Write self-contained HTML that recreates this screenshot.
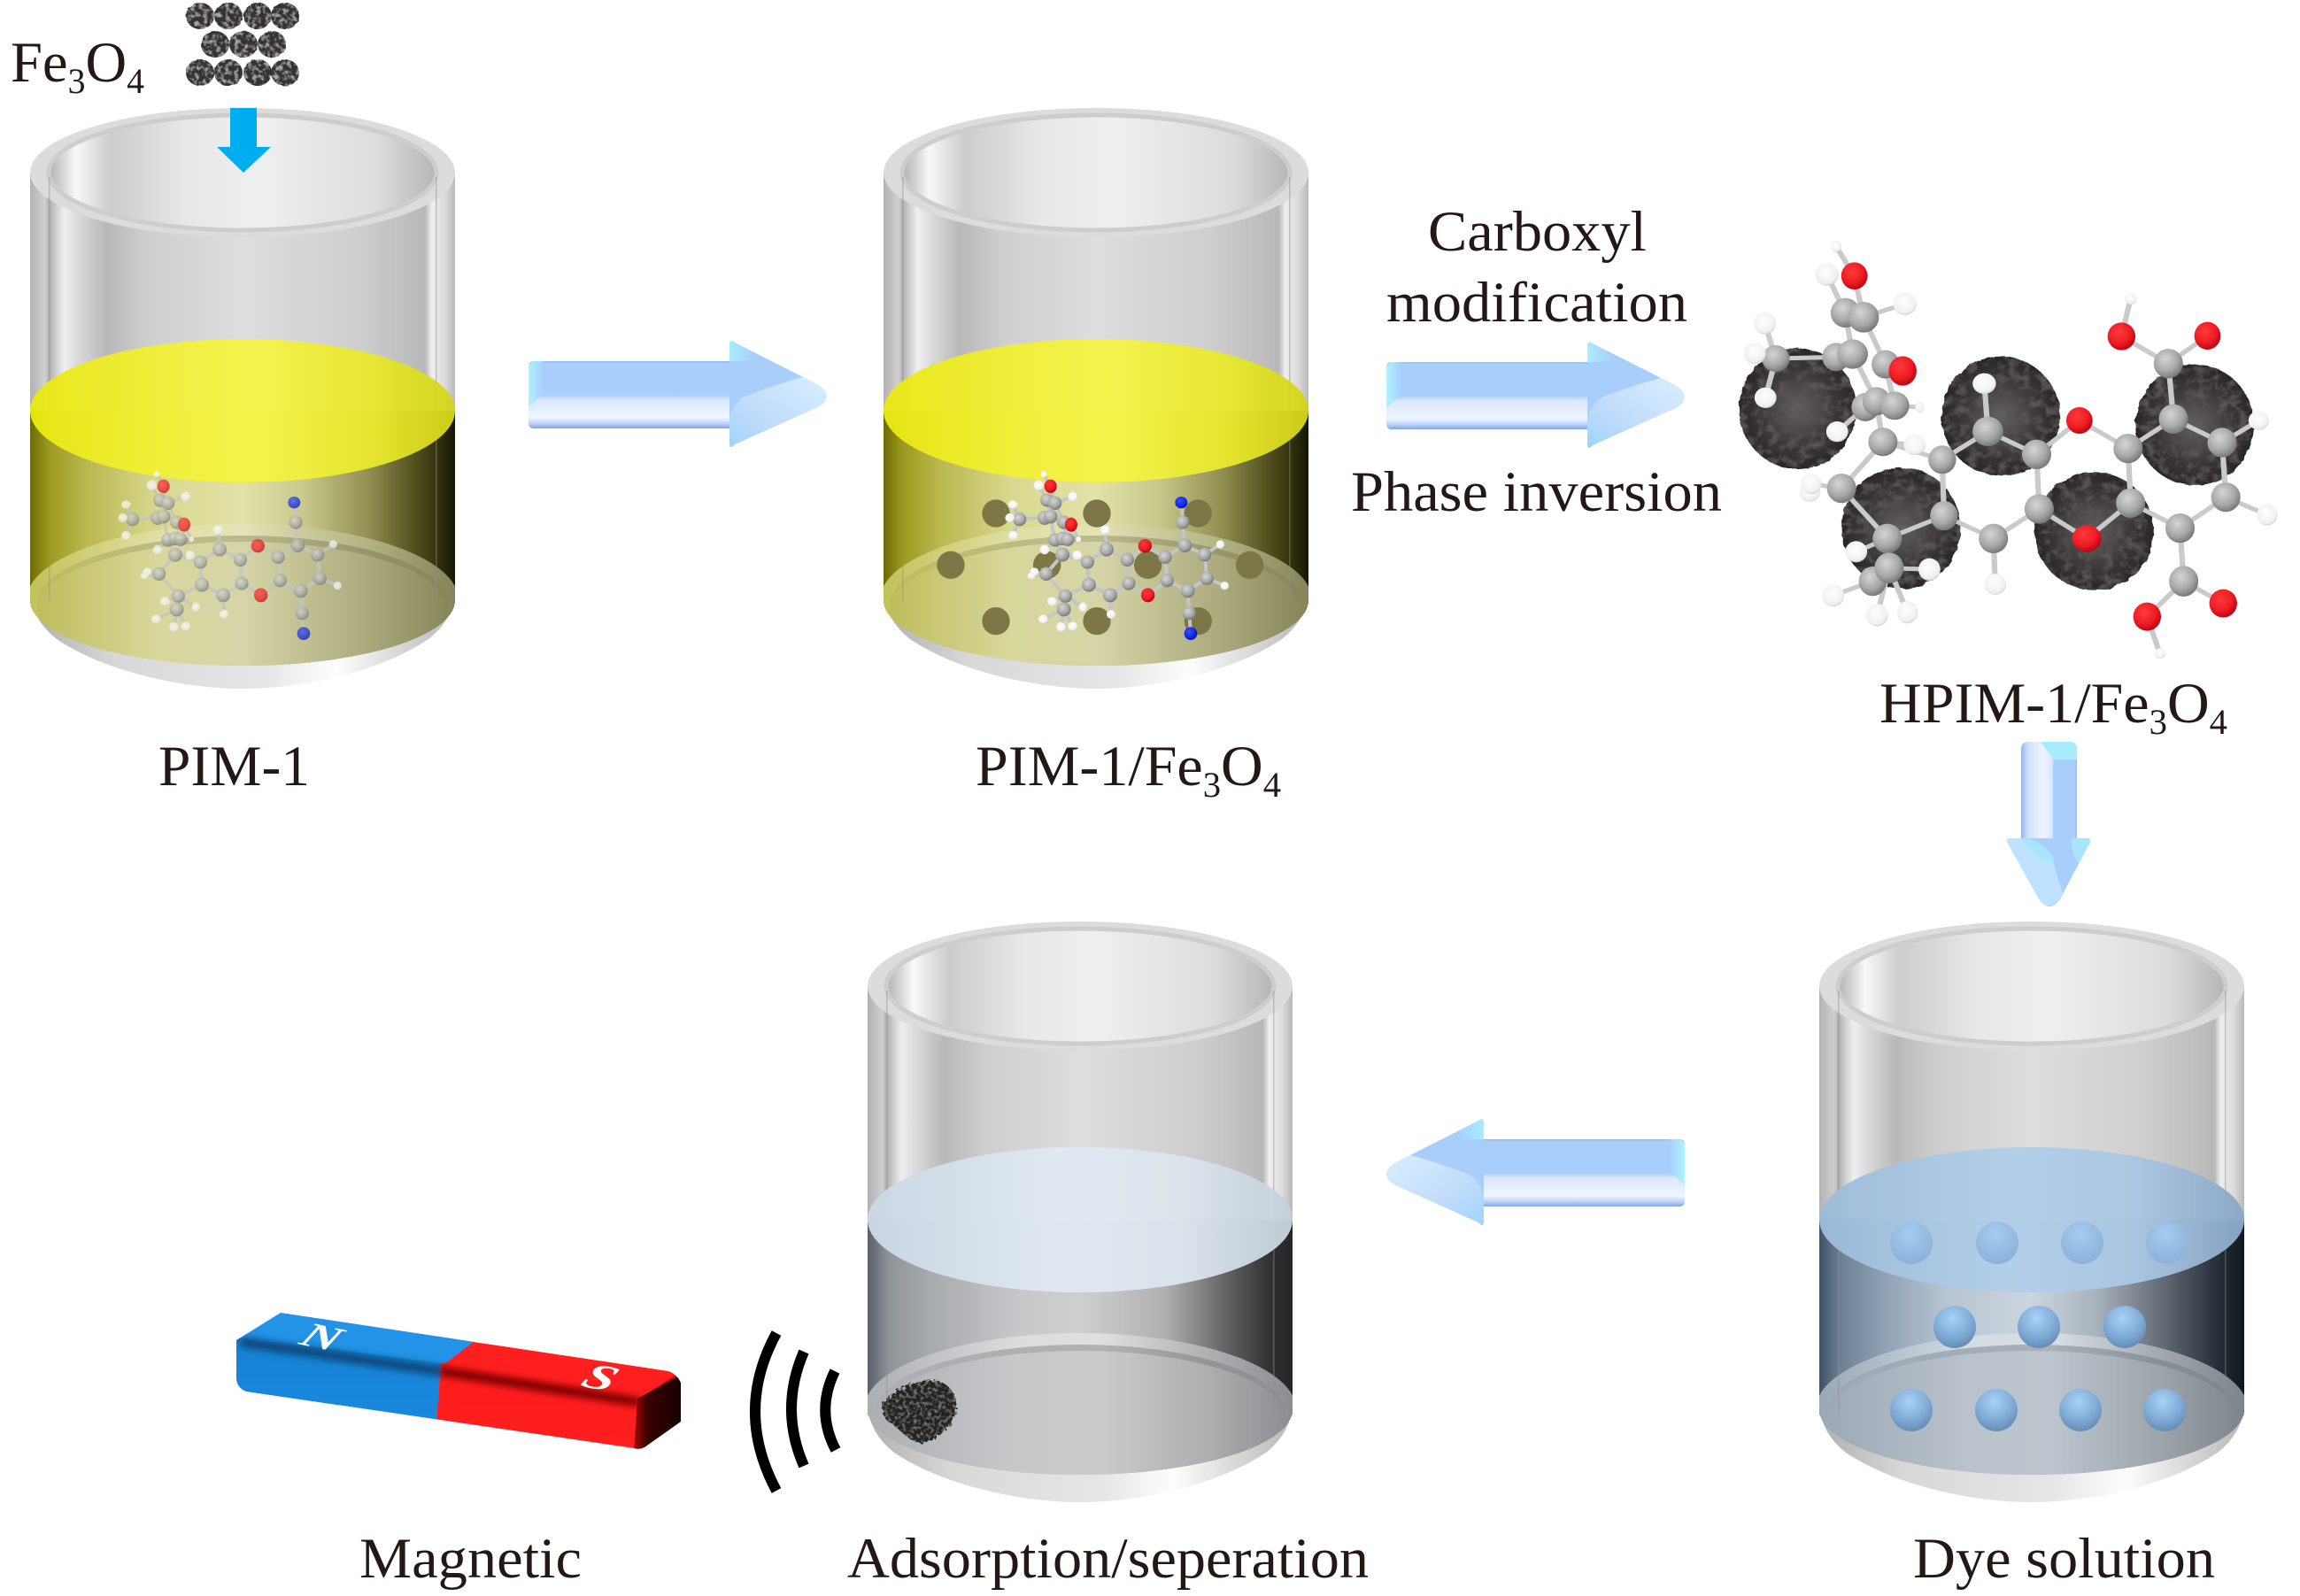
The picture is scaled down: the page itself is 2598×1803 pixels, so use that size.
<!DOCTYPE html>
<html><head><meta charset="utf-8"><title>PIM-1 process diagram</title>
<style>html,body{margin:0;padding:0;background:#fff}svg{display:block}text{font-family:"Liberation Serif",serif;fill:#231815}</style></head>
<body>
<svg xmlns="http://www.w3.org/2000/svg" width="2598" height="1803" viewBox="0 0 2598 1803">
<defs>
<linearGradient id="gBody" gradientUnits="userSpaceOnUse" x1="0" x2="480" y1="0" y2="0">
<stop offset="0" stop-color="#b2b2b2"/><stop offset=".035" stop-color="#cfcfcf"/><stop offset=".045" stop-color="#b0b0b0"/><stop offset=".08" stop-color="#efefef"/><stop offset=".12" stop-color="#d6d6d6"/><stop offset=".18" stop-color="#b8b8b8"/><stop offset=".27" stop-color="#cdcdcd"/><stop offset=".5" stop-color="#dedede"/><stop offset=".78" stop-color="#cdcdcd"/><stop offset=".93" stop-color="#b8b8b8"/><stop offset=".945" stop-color="#eeeeee"/><stop offset=".975" stop-color="#dcdcdc"/><stop offset="1" stop-color="#b8b8b8"/>
</linearGradient>
<linearGradient id="gOpen" gradientUnits="userSpaceOnUse" x1="21" x2="459" y1="0" y2="0">
<stop offset="0" stop-color="#b0b0b0"/><stop offset=".07" stop-color="#f8f8f8"/><stop offset=".16" stop-color="#cccccc"/><stop offset=".36" stop-color="#e8e8e8"/><stop offset=".55" stop-color="#efefef"/><stop offset=".85" stop-color="#dcdcdc"/><stop offset="1" stop-color="#b5b5b5"/>
</linearGradient>
<linearGradient id="gBase" gradientUnits="userSpaceOnUse" x1="0" x2="480" y1="0" y2="0">
<stop offset="0" stop-color="#b0b0b0"/><stop offset=".2" stop-color="#d8d8d8"/><stop offset=".55" stop-color="#e6e6e6"/><stop offset=".72" stop-color="#fdfdfd"/><stop offset=".85" stop-color="#dcdcdc"/><stop offset="1" stop-color="#b8b8b8"/>
</linearGradient>
<!-- yellow -->
<linearGradient id="yL" gradientUnits="userSpaceOnUse" x1="0" x2="480" y1="0" y2="0">
<stop offset="0" stop-color="#6d6b06"/><stop offset=".045" stop-color="#9c9a1c"/><stop offset=".13" stop-color="#b9b74e"/><stop offset=".3" stop-color="#d9d88f"/><stop offset=".5" stop-color="#e3e2a8"/><stop offset=".65" stop-color="#c8c78a"/><stop offset=".8" stop-color="#8f8d50"/><stop offset=".9" stop-color="#555320"/><stop offset=".96" stop-color="#33320c"/><stop offset="1" stop-color="#161605"/>
</linearGradient>
<linearGradient id="yF" gradientUnits="userSpaceOnUse" x1="0" x2="480" y1="0" y2="0">
<stop offset="0" stop-color="#bdbc58"/><stop offset=".3" stop-color="#d8d79b"/><stop offset=".5" stop-color="#d6d5a8"/><stop offset=".8" stop-color="#aaa97c"/><stop offset="1" stop-color="#858458"/>
</linearGradient>
<linearGradient id="yB" gradientUnits="userSpaceOnUse" x1="0" x2="480" y1="0" y2="0">
<stop offset="0" stop-color="#c2c15a"/><stop offset=".3" stop-color="#e0dfa4"/><stop offset=".5" stop-color="#e4e3b6"/><stop offset=".8" stop-color="#b2b183"/><stop offset="1" stop-color="#85845a"/>
</linearGradient>
<linearGradient id="yM" gradientUnits="userSpaceOnUse" x1="0" x2="480" y1="0" y2="0">
<stop offset="0" stop-color="#bdbc58"/><stop offset=".3" stop-color="#bcbb84"/><stop offset=".5" stop-color="#bbba8c"/><stop offset=".8" stop-color="#95946a"/><stop offset="1" stop-color="#858458"/>
</linearGradient>
<linearGradient id="yS" gradientUnits="userSpaceOnUse" x1="0" x2="480" y1="0" y2="0">
<stop offset="0" stop-color="#e9e812"/><stop offset=".35" stop-color="#f2f13c"/><stop offset=".55" stop-color="#f4f346"/><stop offset=".8" stop-color="#e9e82e"/><stop offset="1" stop-color="#d3d31a"/>
</linearGradient>
<!-- dye -->
<linearGradient id="dL" gradientUnits="userSpaceOnUse" x1="0" x2="480" y1="0" y2="0">
<stop offset="0" stop-color="#3e5268"/><stop offset=".05" stop-color="#6e8093"/><stop offset=".15" stop-color="#8ea0b3"/><stop offset=".3" stop-color="#b7c5d2"/><stop offset=".5" stop-color="#ccd5de"/><stop offset=".65" stop-color="#a9b3bd"/><stop offset=".8" stop-color="#666e78"/><stop offset=".92" stop-color="#2e3640"/><stop offset="1" stop-color="#10161c"/>
</linearGradient>
<linearGradient id="dF" gradientUnits="userSpaceOnUse" x1="0" x2="480" y1="0" y2="0">
<stop offset="0" stop-color="#9aa8b5"/><stop offset=".35" stop-color="#bac2cb"/><stop offset=".55" stop-color="#bcc4cd"/><stop offset=".8" stop-color="#9da4ac"/><stop offset="1" stop-color="#7c848c"/>
</linearGradient>
<linearGradient id="dB" gradientUnits="userSpaceOnUse" x1="0" x2="480" y1="0" y2="0">
<stop offset="0" stop-color="#9aa8b5"/><stop offset=".35" stop-color="#d3dbe3"/><stop offset=".55" stop-color="#d8dfe6"/><stop offset=".8" stop-color="#a2a9b0"/><stop offset="1" stop-color="#7c848c"/>
</linearGradient>
<linearGradient id="dM" gradientUnits="userSpaceOnUse" x1="0" x2="480" y1="0" y2="0">
<stop offset="0" stop-color="#9aa8b5"/><stop offset=".35" stop-color="#a4adb6"/><stop offset=".55" stop-color="#a8b0b8"/><stop offset=".8" stop-color="#898f96"/><stop offset="1" stop-color="#7c848c"/>
</linearGradient>
<linearGradient id="dS" gradientUnits="userSpaceOnUse" x1="0" x2="480" y1="0" y2="0">
<stop offset="0" stop-color="#9dbbd9"/><stop offset=".45" stop-color="#b2cfe9"/><stop offset=".75" stop-color="#a9c6e2"/><stop offset="1" stop-color="#89a7c6"/>
</linearGradient>
<!-- clear -->
<linearGradient id="cL" gradientUnits="userSpaceOnUse" x1="0" x2="480" y1="0" y2="0">
<stop offset="0" stop-color="#5b6068"/><stop offset=".05" stop-color="#8f9499"/><stop offset=".15" stop-color="#a8abad"/><stop offset=".35" stop-color="#c5c7c9"/><stop offset=".5" stop-color="#cdcfd1"/><stop offset=".7" stop-color="#aeb0b2"/><stop offset=".85" stop-color="#5e6062"/><stop offset=".95" stop-color="#2e3032"/><stop offset="1" stop-color="#222426"/>
</linearGradient>
<linearGradient id="cF" gradientUnits="userSpaceOnUse" x1="0" x2="480" y1="0" y2="0">
<stop offset="0" stop-color="#acafb2"/><stop offset=".35" stop-color="#c6c8ca"/><stop offset=".55" stop-color="#c9cbcd"/><stop offset=".8" stop-color="#acaeb0"/><stop offset="1" stop-color="#8b8d90"/>
</linearGradient>
<linearGradient id="cB" gradientUnits="userSpaceOnUse" x1="0" x2="480" y1="0" y2="0">
<stop offset="0" stop-color="#acafb2"/><stop offset=".35" stop-color="#dadcdd"/><stop offset=".55" stop-color="#dfe0e1"/><stop offset=".8" stop-color="#aeb0b2"/><stop offset="1" stop-color="#8b8d90"/>
</linearGradient>
<linearGradient id="cM" gradientUnits="userSpaceOnUse" x1="0" x2="480" y1="0" y2="0">
<stop offset="0" stop-color="#acafb2"/><stop offset=".35" stop-color="#adafb1"/><stop offset=".55" stop-color="#b0b2b4"/><stop offset=".8" stop-color="#939597"/><stop offset="1" stop-color="#8b8d90"/>
</linearGradient>
<linearGradient id="cS" gradientUnits="userSpaceOnUse" x1="0" x2="480" y1="0" y2="0">
<stop offset="0" stop-color="#cbd8e4"/><stop offset=".45" stop-color="#e0e9f2"/><stop offset=".75" stop-color="#dbe4ec"/><stop offset="1" stop-color="#c3cfda"/>
</linearGradient>

<clipPath id="liq"><path d="M0,464 V678 A240,74 0 0 0 480,678 V464 Z"/></clipPath>

<g id="beaker">
<path d="M0,195 V668 Q2,700 30,722 C90,762 180,778 240,778 C300,778 390,762 450,722 Q478,700 480,668 V195 Z" fill="url(#gBase)"/>
<rect x="0" y="195" width="480" height="485" fill="url(#gBody)"/>
<ellipse cx="240" cy="195" rx="240" ry="73" fill="#dcdcdc"/>
<ellipse cx="240" cy="195" rx="219" ry="65" fill="url(#gOpen)" stroke="#cdcdcd" stroke-width="5"/>
</g>
<g id="walls">
<rect x="21" y="200" width="1.5" height="478" fill="#8d8d8d" opacity=".45"/>
<rect x="458" y="200" width="1.5" height="478" fill="#8d8d8d" opacity=".45"/>
</g>

<radialGradient id="aC" cx=".4" cy=".35" r=".7"><stop offset="0" stop-color="#d4d6d6"/><stop offset=".6" stop-color="#a6a8a8"/><stop offset="1" stop-color="#6f7171"/></radialGradient>
<radialGradient id="aO" cx=".4" cy=".35" r=".7"><stop offset="0" stop-color="#ff3a3a"/><stop offset=".6" stop-color="#ee1c25"/><stop offset="1" stop-color="#b3000c"/></radialGradient>
<radialGradient id="aH" cx=".45" cy=".4" r=".7"><stop offset="0" stop-color="#ffffff"/><stop offset=".7" stop-color="#f0f0f0"/><stop offset="1" stop-color="#bdbdbd"/></radialGradient>
<radialGradient id="aN" cx=".4" cy=".35" r=".7"><stop offset="0" stop-color="#3a50ff"/><stop offset=".6" stop-color="#1428e6"/><stop offset="1" stop-color="#0610a0"/></radialGradient>
<radialGradient id="aF" cx=".5" cy=".5" r=".6"><stop offset="0" stop-color="#636161"/><stop offset=".55" stop-color="#3a3636"/><stop offset="1" stop-color="#221e1e"/></radialGradient>
<radialGradient id="sph" cx=".45" cy=".3" r=".8"><stop offset="0" stop-color="#a8d2f6"/><stop offset=".6" stop-color="#7ca7d2"/><stop offset="1" stop-color="#5b7fa6"/></radialGradient>
<radialGradient id="sph1" cx=".45" cy=".3" r=".8"><stop offset="0" stop-color="#a6cbee"/><stop offset="1" stop-color="#86aed6"/></radialGradient>

<filter id="tex" x="-10%" y="-10%" width="120%" height="120%">
<feTurbulence type="fractalNoise" baseFrequency=".035" numOctaves="3" seed="4" result="n"/>
<feDisplacementMap in="SourceGraphic" in2="n" scale="12" result="d"/>
<feColorMatrix in="n" type="matrix" values="0 0 0 0 .1  0 0 0 0 .09  0 0 0 0 .09  3 0 0 0 -1.3" result="s0"/>
<feComposite in="s0" in2="d" operator="in" result="s"/>
<feMerge><feMergeNode in="d"/><feMergeNode in="s"/></feMerge>
</filter>
<filter id="tex2" x="-10%" y="-10%" width="120%" height="120%">
<feTurbulence type="fractalNoise" baseFrequency=".2" numOctaves="2" seed="3" result="n"/>
<feDisplacementMap in="SourceGraphic" in2="n" scale="2" result="d"/>
<feColorMatrix in="n" type="matrix" values="0 0 0 0 .42  0 0 0 0 .4  0 0 0 0 .4  3 0 0 0 -1.4" result="s0"/>
<feComposite in="s0" in2="d" operator="in" result="s"/>
<feMerge><feMergeNode in="d"/><feMergeNode in="s"/></feMerge>
</filter>
<filter id="pow" x="-15%" y="-15%" width="130%" height="130%">
<feTurbulence type="fractalNoise" baseFrequency=".25" numOctaves="3" seed="7" result="n"/>
<feDisplacementMap in="SourceGraphic" in2="n" scale="7" result="d"/>
<feColorMatrix in="n" type="matrix" values="0 0 0 0 .2  0 0 0 0 .19  0 0 0 0 .18  3 0 0 0 -1.4" result="s0"/>
<feComposite in="s0" in2="d" operator="in" result="s"/>
<feMerge><feMergeNode in="d"/><feMergeNode in="s"/></feMerge>
</filter>
<filter id="bl" x="-5%" y="-50%" width="110%" height="200%"><feGaussianBlur stdDeviation="4"/></filter>
<clipPath id="mClip"><path d="M317,1483 L755,1549 Q764,1552 769,1562 V1606 L728,1635 Q722,1638 716,1636 L278,1572 Q268,1568 267,1558 V1514 Z"/></clipPath>

<g id="mol">
<g stroke="#c4c5c5" stroke-width="12" fill="none" stroke-linecap="round">
<path d="M560,148 L575,205 L605,270 L618,328 M548,195 L560,250 L575,330 L600,380 M455,260 L560,250 M600,380 L545,445 L610,520 L605,565 M600,380 L685,405 L750,362 L820,397 L825,477 L762,517 L690,482 L685,405 M690,482 L610,520"/>
<path d="M820,397 L880,350 L948,388 L955,467 L890,517 L825,477 M948,388 L1015,348 L1082,380 L1090,460 L1025,502 L955,467 M1015,348 L1008,270 L1003,203 M1025,502 L1030,578 L1035,647"/>
<path d="M750,362 L745,296 M762,517 L765,582 M1082,380 L1135,345 M1090,460 L1150,485 M605,565 L535,598 M605,565 L595,625 M605,565 L635,622 M610,520 L565,538 M610,520 L670,558 M455,260 L433,210 M455,260 L422,255 M455,260 L433,315 M575,205 L635,183 M548,195 L520,145 M560,148 L537,107 M630,278 L655,328 M600,380 L650,382 M575,330 L540,363 M545,445 L500,440 M545,445 L495,452"/>
</g>
<g fill="url(#aC)">
<ellipse cx="455" cy="260" rx="23" ry="23"/><ellipse cx="540" cy="255" rx="24" ry="24"/><ellipse cx="560" cy="250" rx="24" ry="24"/><ellipse cx="548" cy="195" rx="23" ry="23"/><ellipse cx="575" cy="205" rx="23" ry="23"/><ellipse cx="605" cy="270" rx="23" ry="23"/><ellipse cx="575" cy="330" rx="23" ry="23"/><ellipse cx="600" cy="325" rx="23" ry="23"/><ellipse cx="618" cy="328" rx="23" ry="23"/><ellipse cx="600" cy="380" rx="24" ry="24"/><ellipse cx="545" cy="445" rx="23" ry="23"/><ellipse cx="610" cy="520" rx="23" ry="23"/><ellipse cx="605" cy="565" rx="24" ry="24"/><ellipse cx="685" cy="405" rx="23" ry="23"/><ellipse cx="690" cy="482" rx="24" ry="24"/><ellipse cx="750" cy="362" rx="24" ry="24"/><ellipse cx="820" cy="397" rx="23" ry="23"/><ellipse cx="825" cy="477" rx="23" ry="23"/><ellipse cx="762" cy="517" rx="24" ry="24"/><ellipse cx="948" cy="388" rx="23" ry="23"/><ellipse cx="955" cy="467" rx="23" ry="23"/><ellipse cx="1015" cy="348" rx="24" ry="24"/><ellipse cx="1025" cy="502" rx="24" ry="24"/><ellipse cx="1082" cy="380" rx="23" ry="23"/><ellipse cx="1090" cy="460" rx="23" ry="23"/><ellipse cx="1008" cy="270" rx="23" ry="23"/><ellipse cx="1030" cy="578" rx="23" ry="23"/>
</g>
<g fill="url(#aO)"><ellipse cx="560" cy="148" rx="21" ry="23"/><ellipse cx="630" cy="278" rx="21" ry="24"/><ellipse cx="880" cy="350" rx="23" ry="23"/><ellipse cx="890" cy="517" rx="23" ry="24"/></g>
<g fill="url(#aN)"><ellipse cx="1003" cy="203" rx="21" ry="20"/><ellipse cx="1035" cy="647" rx="22" ry="22"/></g>
<g fill="url(#aH)"><ellipse cx="537" cy="107" rx="10" ry="11"/><ellipse cx="520" cy="145" rx="17" ry="17"/><ellipse cx="635" cy="183" rx="16" ry="16"/><ellipse cx="433" cy="210" rx="16" ry="14"/><ellipse cx="422" cy="255" rx="16" ry="15"/><ellipse cx="433" cy="315" rx="16" ry="15"/><ellipse cx="540" cy="363" rx="16" ry="16"/><ellipse cx="650" cy="382" rx="16" ry="16"/><ellipse cx="655" cy="328" rx="9" ry="10"/><ellipse cx="505" cy="438" rx="15" ry="14"/><ellipse cx="495" cy="452" rx="13" ry="11"/><ellipse cx="745" cy="296" rx="16" ry="16"/><ellipse cx="765" cy="582" rx="15" ry="15"/><ellipse cx="1135" cy="345" rx="14" ry="14"/><ellipse cx="1150" cy="485" rx="14" ry="14"/><ellipse cx="565" cy="538" rx="16" ry="15"/><ellipse cx="670" cy="558" rx="14" ry="16"/><ellipse cx="535" cy="598" rx="16" ry="15"/><ellipse cx="595" cy="625" rx="16" ry="16"/><ellipse cx="635" cy="622" rx="16" ry="15"/></g>
</g>

<linearGradient id="arS" x1="0" x2="0" y1="0" y2="1">
<stop offset="0" stop-color="#8fb6f2"/><stop offset=".03" stop-color="#a9cefc"/><stop offset=".5" stop-color="#a9cefc"/><stop offset=".58" stop-color="#dbe8fd"/><stop offset=".84" stop-color="#eef5ff"/><stop offset=".93" stop-color="#bcd1f6"/><stop offset="1" stop-color="#7fa7e8"/>
</linearGradient>
<linearGradient id="arC" x1="0" x2="1" y1="0" y2="0"><stop offset="0" stop-color="#aef4ff"/><stop offset="1" stop-color="#a9cefc"/></linearGradient>
<linearGradient id="arH" x1="0" x2="1" y1="1" y2="0"><stop offset="0" stop-color="#9fd4fb"/><stop offset=".4" stop-color="#c2dcfb"/><stop offset="1" stop-color="#d6efff"/></linearGradient>
<linearGradient id="arT" x1="0" x2="1" y1="0" y2="0"><stop offset="0" stop-color="#a8ecff"/><stop offset="1" stop-color="#a9cefc"/></linearGradient>
<g id="arrow">
<path d="M6,0 H232 V76 H6 Q0,76 0,70 V6 Q0,0 6,0 Z" fill="url(#arS)"/>
<path d="M5,0 H17 V36 L0,52 V5 Z" fill="url(#arC)"/>
<path d="M227,-20 Q228,-25 233,-21 L322,24 Q340,33 336,43 Q333,50 322,54 L233,94 Q228,100 227,94 Z" fill="#a9cefc"/>
<path d="M243,40 Q280,26 310,18 L322,24 Q340,33 336,43 Q333,50 322,54 L233,94 Q228,100 227,94 V62 Q232,48 243,40 Z" fill="url(#arH)"/>
<path d="M227,-20 Q228,-25 233,-21 L256,-9 Q256,0 240,0 H227 Z" fill="url(#arT)"/>
</g>
<linearGradient id="dnS" x1="0" x2="1" y1="0" y2="0">
<stop offset="0" stop-color="#8fb6f2"/><stop offset=".12" stop-color="#d2e0fb"/><stop offset=".4" stop-color="#eef5ff"/><stop offset=".56" stop-color="#d8e5fd"/><stop offset=".58" stop-color="#a9cefc"/><stop offset=".97" stop-color="#a9cefc"/><stop offset="1" stop-color="#8fb6f2"/>
</linearGradient>
<linearGradient id="mB" x1="0" x2="0" y1="0" y2="1"><stop offset="0" stop-color="#1580d4"/><stop offset="1" stop-color="#1a8ade"/></linearGradient>
<linearGradient id="mR" x1="0" x2="0" y1="0" y2="1"><stop offset="0" stop-color="#ff1a1a"/><stop offset="1" stop-color="#ff2020"/></linearGradient>
<linearGradient id="mE" x1="0" x2="1" y1="0" y2="0"><stop offset="0" stop-color="#a80808"/><stop offset=".25" stop-color="#3c0000"/><stop offset="1" stop-color="#100000"/></linearGradient>
</defs>

<rect width="2598" height="1803" fill="#fff"/>

<!-- Beaker 1 -->
<g transform="translate(34,0)">
<use href="#beaker"/>
<g clip-path="url(#liq)">
<rect x="0" y="464" width="480" height="320" fill="url(#yL)"/>
<ellipse cx="240" cy="678" rx="244" ry="86" fill="url(#yB)"/>
<ellipse cx="240" cy="682" rx="232" ry="77" fill="url(#yM)"/>
<ellipse cx="240" cy="688" rx="232" ry="76" fill="url(#yF)"/>
</g>
<use href="#walls"/>
<ellipse cx="240" cy="464" rx="240" ry="81" fill="url(#yS)" opacity=".96"/>
</g>
<g opacity=".72"><g transform="translate(-2,500) scale(.3333)"><use href="#mol"/></g></g>

<!-- Fe3O4 particles -->
<g filter="url(#tex2)" fill="#363333">
<ellipse cx="226" cy="18" rx="16" ry="15"/><ellipse cx="258" cy="18" rx="16" ry="15"/><ellipse cx="291" cy="18" rx="16" ry="15"/><ellipse cx="322" cy="18" rx="16" ry="15"/>
<ellipse cx="243" cy="50" rx="16" ry="15"/><ellipse cx="275" cy="50" rx="16" ry="15"/><ellipse cx="307" cy="50" rx="16" ry="15"/>
<ellipse cx="226" cy="82" rx="16" ry="15"/><ellipse cx="258" cy="82" rx="16" ry="15"/><ellipse cx="291" cy="82" rx="16" ry="15"/><ellipse cx="322" cy="82" rx="16" ry="15"/>
</g>
<polygon points="260,122 290,122 290,166 306,166 275,195 245,166 260,166" fill="#00aeef"/>
<text x="12" y="92" font-size="65" textLength="151" lengthAdjust="spacingAndGlyphs">Fe<tspan font-size="40" dy="13">3</tspan><tspan dy="-13">O</tspan><tspan font-size="40" dy="13">4</tspan></text>

<!-- Beaker 2 -->
<g transform="translate(998,0)">
<use href="#beaker"/>
<g clip-path="url(#liq)">
<rect x="0" y="464" width="480" height="320" fill="url(#yL)"/>
<ellipse cx="240" cy="678" rx="244" ry="86" fill="url(#yB)"/>
<ellipse cx="240" cy="682" rx="232" ry="77" fill="url(#yM)"/>
<ellipse cx="240" cy="688" rx="232" ry="76" fill="url(#yF)"/>
</g>
<use href="#walls"/>
<ellipse cx="240" cy="464" rx="240" ry="81" fill="url(#yS)" opacity=".96"/>
</g>
<g transform="translate(1000,500) scale(.3333)">
<g fill="#7d7748"><circle cx="375" cy="240" r="47"/><circle cx="717" cy="240" r="47"/><circle cx="1060" cy="240" r="47"/><circle cx="222" cy="415" r="47"/><circle cx="548" cy="415" r="47"/><circle cx="890" cy="415" r="47"/><circle cx="1235" cy="415" r="47"/><circle cx="375" cy="605" r="47"/><circle cx="717" cy="605" r="47"/><circle cx="1060" cy="605" r="47"/></g>
<use href="#mol"/>
</g>

<!-- HPIM molecule -->
<g transform="translate(1950,260) scale(.4133,.3333)">
<g fill="url(#aF)" filter="url(#tex)">
<ellipse cx="195" cy="605" rx="160" ry="205"/><ellipse cx="750" cy="630" rx="162" ry="202"/><ellipse cx="478" cy="1010" rx="163" ry="205"/><ellipse cx="1005" cy="1020" rx="163" ry="200"/><ellipse cx="1280" cy="660" rx="162" ry="205"/>
</g>
<g stroke="#c9caca" stroke-width="15" fill="none" stroke-linecap="round">
<path d="M135,435 L300,430 M350,155 L375,295 L435,455 L460,595 L528,600 M325,280 L345,420 L410,580 L428,718 L315,875 L440,1045 L445,1145 M428,718 L590,778 L715,682 L848,760 L855,945 L730,1045 L595,968 L590,778 M595,968 L440,1045"/>
<path d="M848,760 L965,645 L1098,740 L1105,925 L985,1045 L855,945 M1098,740 L1222,640 L1355,720 L1365,905 L1240,1010 L1105,925 M1222,640 L1208,452 L1080,360 M1208,452 L1315,358 M1240,1010 L1250,1190 L1150,1310 M1250,1190 L1358,1265 M1080,360 L1105,232 M1150,1310 L1185,1435 M715,682 L705,520 M730,1045 L735,1200 M1355,720 L1455,645 M1365,905 L1478,965 M440,1045 L355,1090 M445,1145 L555,1150 M400,1190 L292,1238 M445,1145 L412,1305 M445,1145 L495,1295 M135,435 L105,315 M135,435 L78,418 M135,435 L107,568 M375,295 L488,250 M325,280 L275,150 M350,155 L300,55 M380,600 L303,683 M428,718 L515,728 M315,875 L232,860"/>
</g>
<g fill="url(#aC)">
<ellipse cx="135" cy="435" rx="38" ry="45"/><ellipse cx="300" cy="430" rx="38" ry="48"/><ellipse cx="345" cy="420" rx="42" ry="50"/><ellipse cx="325" cy="280" rx="40" ry="50"/><ellipse cx="375" cy="295" rx="42" ry="52"/><ellipse cx="435" cy="455" rx="38" ry="48"/><ellipse cx="380" cy="600" rx="38" ry="48"/><ellipse cx="410" cy="580" rx="38" ry="48"/><ellipse cx="460" cy="595" rx="40" ry="48"/><ellipse cx="428" cy="718" rx="40" ry="48"/><ellipse cx="315" cy="875" rx="40" ry="50"/><ellipse cx="590" cy="778" rx="38" ry="48"/><ellipse cx="715" cy="682" rx="42" ry="50"/><ellipse cx="848" cy="760" rx="40" ry="50"/><ellipse cx="595" cy="968" rx="38" ry="50"/><ellipse cx="855" cy="945" rx="40" ry="50"/><ellipse cx="730" cy="1045" rx="40" ry="50"/><ellipse cx="1098" cy="740" rx="40" ry="50"/><ellipse cx="1105" cy="925" rx="40" ry="50"/><ellipse cx="1240" cy="1010" rx="40" ry="50"/><ellipse cx="1365" cy="905" rx="40" ry="50"/><ellipse cx="1355" cy="720" rx="40" ry="50"/><ellipse cx="1222" cy="640" rx="40" ry="50"/><ellipse cx="1208" cy="452" rx="40" ry="50"/><ellipse cx="1250" cy="1190" rx="40" ry="52"/><ellipse cx="440" cy="1045" rx="40" ry="50"/><ellipse cx="400" cy="1190" rx="38" ry="50"/><ellipse cx="445" cy="1145" rx="40" ry="52"/>
</g>
<g fill="url(#aO)"><ellipse cx="350" cy="155" rx="36" ry="46"/><ellipse cx="482" cy="477" rx="38" ry="50"/><ellipse cx="1080" cy="360" rx="38" ry="47"/><ellipse cx="1315" cy="358" rx="36" ry="47"/><ellipse cx="965" cy="645" rx="36" ry="45"/><ellipse cx="985" cy="1045" rx="40" ry="45"/><ellipse cx="1150" cy="1310" rx="38" ry="48"/><ellipse cx="1358" cy="1265" rx="38" ry="48"/></g>
<g fill="url(#aH)"><ellipse cx="300" cy="55" rx="15" ry="20"/><ellipse cx="275" cy="150" rx="32" ry="38"/><ellipse cx="488" cy="250" rx="32" ry="38"/><ellipse cx="105" cy="315" rx="30" ry="38"/><ellipse cx="78" cy="418" rx="30" ry="35"/><ellipse cx="107" cy="568" rx="30" ry="35"/><ellipse cx="303" cy="683" rx="30" ry="35"/><ellipse cx="515" cy="728" rx="30" ry="35"/><ellipse cx="228" cy="890" rx="28" ry="30"/><ellipse cx="232" cy="860" rx="28" ry="35"/><ellipse cx="528" cy="600" rx="12" ry="18"/><ellipse cx="705" cy="520" rx="32" ry="35"/><ellipse cx="735" cy="1200" rx="30" ry="36"/><ellipse cx="1105" cy="232" rx="16" ry="20"/><ellipse cx="1455" cy="645" rx="28" ry="32"/><ellipse cx="1478" cy="965" rx="28" ry="36"/><ellipse cx="355" cy="1090" rx="30" ry="36"/><ellipse cx="555" cy="1150" rx="30" ry="38"/><ellipse cx="292" cy="1238" rx="30" ry="38"/><ellipse cx="412" cy="1305" rx="30" ry="38"/><ellipse cx="495" cy="1295" rx="28" ry="38"/><ellipse cx="1185" cy="1435" rx="15" ry="18"/></g>
</g>

<!-- Arrows -->
<use href="#arrow" transform="translate(597,408)"/>
<use href="#arrow" transform="translate(1566,409)"/>
<use href="#arrow" transform="translate(1903,1287) scale(-1,1)"/>
<g>
<path d="M2292,838 H2338 Q2346,838 2346,846 V960 H2283 V846 Q2283,838 2292,838 Z" fill="url(#dnS)"/>
<path d="M2305,838 H2338 Q2346,838 2346,846 V858 H2320 Q2312,848 2305,838 Z" fill="#a8ecff"/>
<path d="M2270,947 H2358 Q2363,947 2360,953 L2328,1014 Q2315,1034 2302,1014 L2268,953 Q2265,947 2270,947 Z" fill="#a9cefc"/>
<path d="M2270,947 H2283 Q2295,962 2319,974 L2330,1010 Q2315,1034 2302,1014 L2268,953 Q2265,947 2270,947 Z" fill="#bfe2ff"/>
<path d="M2283,947 Q2305,947 2320,970 L2320,978 Q2295,968 2283,950 Z" fill="#a8ecff" opacity=".8"/>
<path d="M2340,947 H2358 Q2363,947 2360,953 L2348,976 Q2340,964 2340,947 Z" fill="#a8ecff" opacity=".8"/>
</g>

<!-- Labels top -->
<text x="1613" y="283" font-size="65" textLength="247" lengthAdjust="spacingAndGlyphs">Carboxyl</text>
<text x="1566" y="363" font-size="65" textLength="340" lengthAdjust="spacingAndGlyphs">modification</text>
<text x="1526" y="577" font-size="65" textLength="419" lengthAdjust="spacingAndGlyphs">Phase inversion</text>
<text x="179" y="887" font-size="65" textLength="171" lengthAdjust="spacingAndGlyphs">PIM-1</text>
<text x="1102" y="887" font-size="65" textLength="345" lengthAdjust="spacingAndGlyphs">PIM-1/Fe<tspan font-size="40" dy="13">3</tspan><tspan dy="-13">O</tspan><tspan font-size="40" dy="13">4</tspan></text>
<text x="2123" y="816" font-size="65" textLength="393" lengthAdjust="spacingAndGlyphs">HPIM-1/Fe<tspan font-size="40" dy="13">3</tspan><tspan dy="-13">O</tspan><tspan font-size="40" dy="13">4</tspan></text>

<!-- Dye beaker -->
<g transform="translate(2055,919)">
<use href="#beaker"/>
<g clip-path="url(#liq)" transform="translate(0,-5)">
<rect x="0" y="464" width="480" height="320" fill="url(#dL)"/>
<ellipse cx="240" cy="678" rx="244" ry="86" fill="url(#dB)"/>
<ellipse cx="240" cy="682" rx="232" ry="77" fill="url(#dM)"/>
<ellipse cx="240" cy="688" rx="232" ry="76" fill="url(#dF)"/>
</g>
<use href="#walls"/>
<ellipse cx="240" cy="459" rx="240" ry="82" fill="url(#dS)" opacity=".97"/>
</g>
<g fill="url(#sph1)"><ellipse cx="2159" cy="1404" rx="24" ry="24"/><ellipse cx="2256" cy="1404" rx="24" ry="24"/><ellipse cx="2352" cy="1404" rx="24" ry="24"/><ellipse cx="2448" cy="1404" rx="24" ry="24"/></g>
<g fill="url(#sph)"><ellipse cx="2208" cy="1499" rx="24" ry="24"/><ellipse cx="2303" cy="1499" rx="24" ry="24"/><ellipse cx="2400" cy="1499" rx="24" ry="24"/>
<ellipse cx="2159" cy="1593" rx="24" ry="24"/><ellipse cx="2255" cy="1593" rx="24" ry="24"/><ellipse cx="2350" cy="1593" rx="24" ry="24"/><ellipse cx="2445" cy="1593" rx="24" ry="24"/></g>

<!-- Clear beaker -->
<g transform="translate(980,919)">
<use href="#beaker"/>
<g clip-path="url(#liq)" transform="translate(0,-5)">
<rect x="0" y="464" width="480" height="320" fill="url(#cL)"/>
<ellipse cx="240" cy="678" rx="244" ry="86" fill="url(#cB)"/>
<ellipse cx="240" cy="682" rx="232" ry="77" fill="url(#cM)"/>
<ellipse cx="240" cy="688" rx="232" ry="76" fill="url(#cF)"/>
</g>
<use href="#walls"/>
<ellipse cx="240" cy="459" rx="240" ry="82" fill="url(#cS)" opacity=".97"/>
</g>
<path d="M998,1585 C1012,1566 1040,1557 1060,1560 C1078,1566 1084,1585 1078,1600 C1070,1618 1050,1632 1040,1630 C1025,1628 1015,1612 1002,1605 C996,1598 995,1590 998,1585 Z" fill="#232220" filter="url(#pow)"/>

<!-- Magnet -->
<g clip-path="url(#mClip)">
<path d="M310,1475 L540,1512 L498,1550 L260,1520 Z" fill="#2293e6"/>
<path d="M260,1510 L498,1540 L493,1610 L260,1575 Z" fill="url(#mB)"/>
<path d="M535,1516 L780,1552 L722,1590 L498,1544 Z" fill="#ff1f1f"/>
<path d="M498,1540 L722,1578 V1645 L493,1606 Z" fill="url(#mR)"/>
<path d="M272,1516 L498,1549" stroke="#0a4778" stroke-width="11" fill="none" filter="url(#bl)"/>
<path d="M498,1549 L722,1584" stroke="#7e0000" stroke-width="11" fill="none" filter="url(#bl)"/>
<path d="M722,1584 L770,1552" stroke="#c01010" stroke-width="6" fill="none"/>
<path d="M775,1550 V1612 L728,1642 L716,1640 L720,1580 Z" fill="url(#mE)"/>
</g>
<text x="0" y="0" font-size="40" font-weight="bold" font-style="italic" style="fill:#fff" transform="translate(336,1518) rotate(12) skewX(-18) scale(1.45,1)">N</text>
<text x="0" y="0" font-size="42" font-weight="bold" font-style="italic" style="fill:#fff" transform="translate(654,1565) rotate(12) skewX(-18) scale(1.5,1)">S</text>
<g fill="none" stroke="#000" stroke-width="12">
<path d="M877,1506 Q829,1594 877,1684"/>
<path d="M908,1527 Q880,1592 908,1656"/>
<path d="M943,1549 Q921,1594 944,1638"/>
</g>

<!-- Labels bottom -->
<text x="406" y="1782" font-size="65" textLength="251" lengthAdjust="spacingAndGlyphs">Magnetic</text>
<text x="957" y="1782" font-size="65" textLength="589" lengthAdjust="spacingAndGlyphs">Adsorption/seperation</text>
<text x="2161" y="1782" font-size="65" textLength="341" lengthAdjust="spacingAndGlyphs">Dye solution</text>
</svg>
</body></html>
